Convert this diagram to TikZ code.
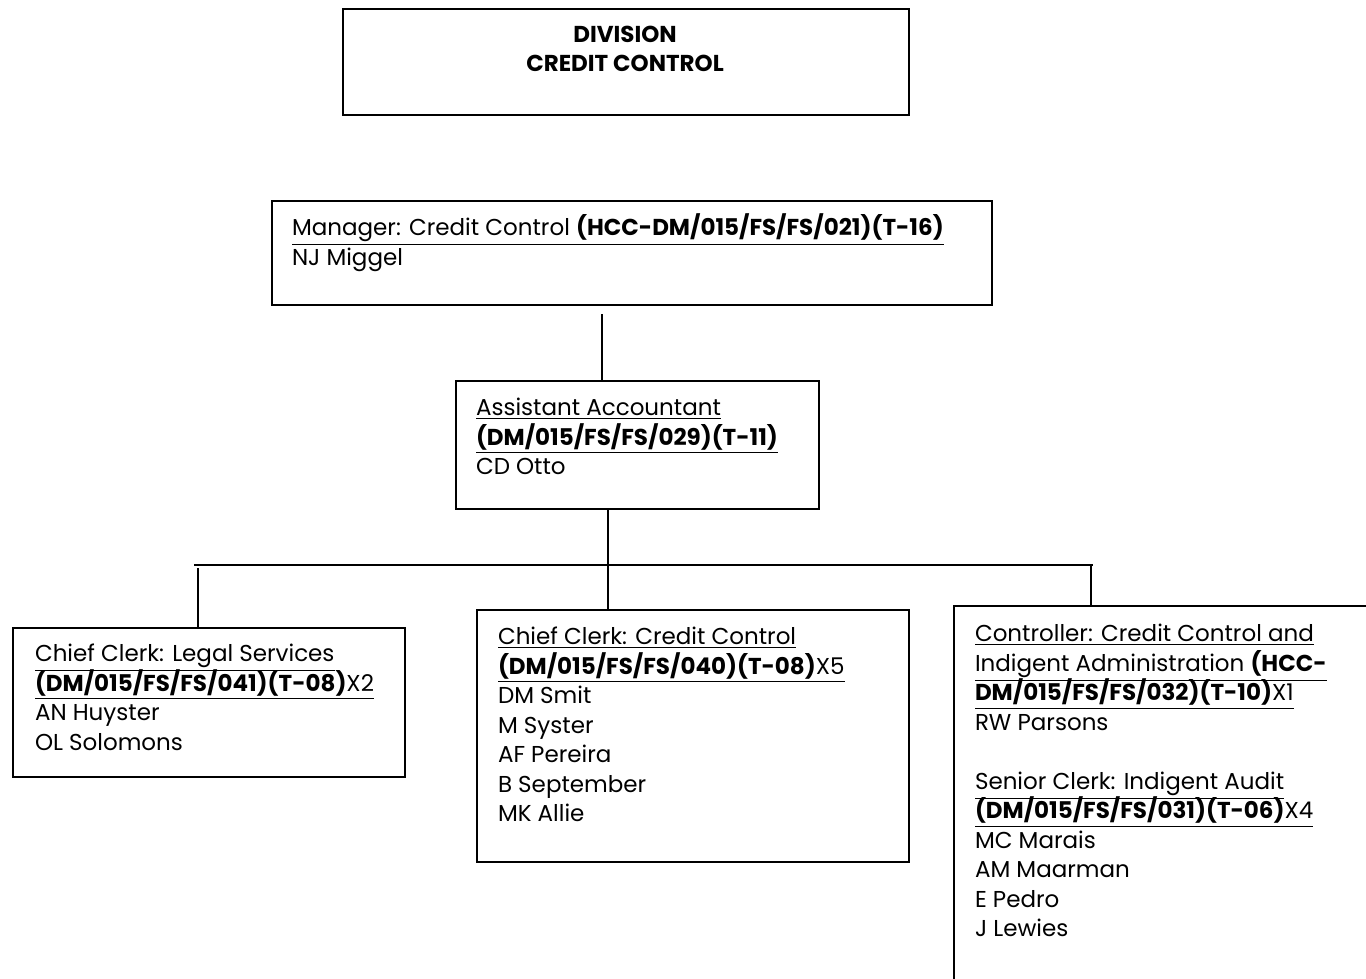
\documentclass[tikz,border=0pt]{standalone}
\usepackage{fontspec}
\setmainfont{Poppins}
\usetikzlibrary{positioning}

\tikzset{
  box/.style={draw, line width=1pt, inner sep=0pt, anchor=north west},
  txt/.style={align=left, inner sep=0pt, anchor=north west,
    font=\fontsize{11.5}{14.75}\selectfont}
}

\begin{document}
\lineskiplimit=-10pt
\begin{tikzpicture}[x=0.5pt, y=-0.5pt, line width=1pt]
\useasboundingbox (0,0) rectangle (1366,979);
\clip (0,0) rectangle (1366,979);

\node (div)[box, minimum width=283pt, minimum height=53pt] at (342,8) {};
\node (divtxt)[align=center, inner sep=0pt, font=\fontsize{11.5}{14.75}\selectfont\bfseries] at (625,49) {DIVISION\\CREDIT CONTROL};

\node (mgr)[box, minimum width=360pt, minimum height=52pt] at (271,200) {};
\node (mgrtxt)[txt] at (291,213) {\underline{Manager: Credit Control \textbf{(HCC-DM/015/FS/FS/021)(T-16)}}\\NJ Miggel};

\node (asst)[box, minimum width=181.5pt, minimum height=64pt] at (455,380) {};
\node (assttxt)[txt] at (475,397) {\underline{Assistant Accountant}\\\underline{\textbf{(DM/015/FS/FS/029)(T-11)}}\\CD Otto};

\node (legal)[box, minimum width=196pt, minimum height=74.5pt] at (12,627) {};
\node (legaltxt)[txt] at (34,643) {\underline{Chief Clerk: Legal Services}\\\underline{\textbf{(DM/015/FS/FS/041)(T-08)}X2}\\AN Huyster\\OL Solomons};

\node (mid)[box, minimum width=216pt, minimum height=126pt] at (476,609) {};
\node (midtxt)[txt] at (497,626) {\underline{Chief Clerk: Credit Control}\\\underline{\textbf{(DM/015/FS/FS/040)(T-08)}X5}\\DM Smit\\M Syster\\AF Pereira\\B September\\MK Allie};

\node (ctrl)[box, minimum width=215pt, minimum height=195pt] at (953,605) {};
\node (ctrltxt)[txt] at (974,623) {\underline{Controller: Credit Control and}\\\underline{Indigent Administration \textbf{(HCC-}}\\\underline{\textbf{DM/015/FS/FS/032)(T-10)}X1}\\RW Parsons\\[14.75pt]\underline{Senior Clerk: Indigent Audit}\\\underline{\textbf{(DM/015/FS/FS/031)(T-06)}X4}\\MC Marais\\AM Maarman\\E Pedro\\J Lewies};

% connectors
\coordinate (c1) at (602,314);
\draw (c1) -- (c1 |- asst.north);
\coordinate (c2) at (608,565);
\draw (c2 |- asst.south) -- (c2 |- mid.north);
\coordinate (hl) at (194,565);
\coordinate (hr) at (1093,565);
\draw (hl) -- (hr);
\coordinate (c3) at (198,568);
\draw (c3) -- (c3 |- legal.north);
\coordinate (c4) at (1091,565);
\draw (c4) -- (c4 |- ctrl.north);
\end{tikzpicture}
\end{document}
